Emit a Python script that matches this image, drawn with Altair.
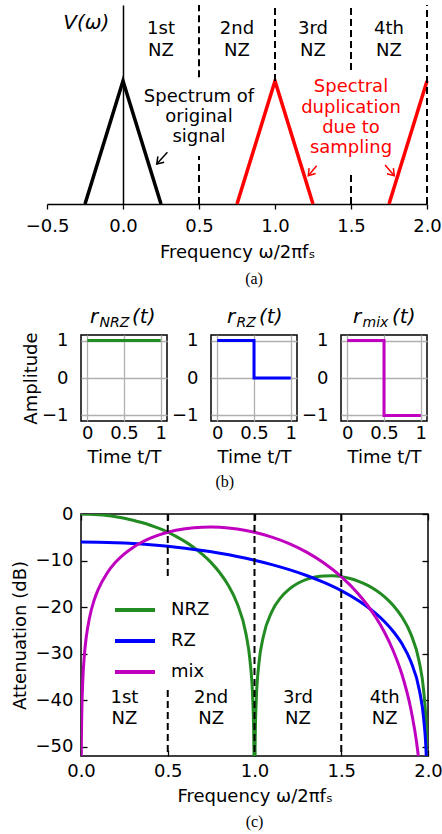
import altair as alt
import pandas as pd
import numpy as np

FONT = "DejaVu Sans"
SERIF = "Liberation Serif"

# ---------------- (a) data ----------------
tri_x = [-0.25, 0.0, 0.25, 0.75, 1.0, 1.25, 1.75, 2.0]
tri_y = [0, 1, 0, 0, 1, 0, 0, 1]
tri_id = ["o", "o", "o", "d1", "d1", "d1", "d2", "d2"]
tri_kind = ["orig", "orig", "orig", "dup", "dup", "dup", "dup", "dup"]
a_xticks = [-0.5, 0.0, 0.5, 1.0, 1.5, 2.0]
A_TOP = 1.618
dash_a_x = [0.5, 0.5, 1.0, 1.5, 1.5, 2.0]
dash_a_y1 = [1.03, 0.0, 1.0, 1.09, 0.0, 0.0]
dash_a_y2 = [A_TOP, 0.39, A_TOP, A_TOP, 0.26, A_TOP]
nz_x = [0.25, 0.75, 1.25, 1.75]
nz_line1 = ["1st", "2nd", "3rd", "4th"]
nz_line2 = ["NZ", "NZ", "NZ", "NZ"]
arrow_tail_x = [0.292, 1.274, 1.724]
arrow_tail_y = [0.420, 0.311, 0.317]
arrow_head_x = [0.222, 1.219, 1.785]
arrow_head_y = [0.325, 0.230, 0.230]
arrow_kind = ["orig", "dup", "dup"]
note_text = ["Spectrum of\noriginal\nsignal", "Spectral\nduplication\ndue to\nsampling"]
note_x = [0.5, 1.5]
note_y = [0.832, 0.908]
note_kind = ["orig", "dup"]

# ---------------- (b) data ----------------
b_names = ["NRZ", "RZ", "mix"]
b_t = [[0, 1], [0, 0.5, 0.5, 1], [0, 0.5, 0.5, 1]]
b_v = [[1, 1], [1, 1, 0, 0], [1, 1, -1, -1]]

# ---------------- (c) data ----------------
nrz_f = [0, 0.05, 0.1, 0.15, 0.2, 0.25, 0.3, 0.35, 0.4, 0.45,
         0.5, 0.55, 0.6, 0.65, 0.7, 0.75, 0.8, 0.85, 0.9, 0.95,
         0.975, 0.99, 0.995, 0.998, 1.0, 1.002, 1.005, 1.01, 1.025, 1.05,
         1.1, 1.15, 1.2, 1.25, 1.3, 1.35, 1.4, 1.45, 1.5, 1.55,
         1.6, 1.65, 1.7, 1.75, 1.8, 1.85, 1.9, 1.95, 1.975, 1.99,
         1.995, 2.0]
nrz_db = [0, -0.04, -0.14, -0.32, -0.58, -0.91, -1.33, -1.83, -2.42, -3.11,
          -3.92, -4.86, -5.94, -7.20, -8.69, -10.45, -12.62, -15.39, -19.23, -25.6,
          -31.83, -39.9, -46.0, -54.0, -60, -54.0, -46.1, -40.1, -32.26, -26.5,
          -20.97, -18.02, -16.14, -14.89, -14.06, -13.55, -13.30, -13.28, -13.46, -13.86,
          -14.46, -15.30, -16.39, -17.81, -19.66, -22.15, -25.7, -31.86, -37.96, -46.0,
          -52.0, -60]
rz_f = [0, 0.1, 0.2, 0.3, 0.4, 0.5, 0.6, 0.7, 0.8, 0.9, 1.0, 1.1, 1.2, 1.3, 1.4,
        1.5, 1.6, 1.65, 1.7, 1.75, 1.8, 1.85, 1.9, 1.95, 1.975, 1.99, 1.995, 2.0]
rz_db = [-6.02, -6.06, -6.16, -6.34, -6.60, -6.93, -7.35, -7.85, -8.44, -9.13,
         -9.94, -10.88, -11.96, -13.22, -14.71, -16.47, -18.64, -19.93, -21.41,
         -23.15, -25.25, -27.9, -31.6, -37.8, -43.97, -52.0, -58.0, -60]
mix_f = [0, 0.001, 0.002, 0.005, 0.01, 0.02, 0.03, 0.05, 0.075, 0.1,
         0.15, 0.2, 0.25, 0.3, 0.35, 0.4, 0.45, 0.5, 0.6, 0.7,
         0.75, 0.8, 0.9, 1.0, 1.1, 1.2, 1.3, 1.4, 1.5, 1.6,
         1.65, 1.7, 1.75, 1.8, 1.85, 1.9, 1.92, 1.93, 1.94, 1.95, 1.96]
mix_db = [-60, -56.1, -50.06, -42.1, -36.08, -30.06, -26.54, -22.12, -18.6, -16.15,
          -12.72, -10.34, -8.57, -7.18, -6.08, -5.19, -4.49, -3.92, -3.17, -2.83,
          -2.80, -2.85, -3.22, -3.92, -4.97, -6.37, -8.20, -10.53, -13.46, -17.23,
          -19.55, -22.25, -25.47, -29.43, -34.5, -41.7, -45.7, -48.0, -50.7, -53.9, -57.8]
series = ["NRZ", "RZ", "mix"]
series_colors = ["#228B22", "#0000FF", "#BF00BF"]
c_xticks = [0, 0.5, 1.0, 1.5, 2.0]
c_yticks = [0, -10, -20, -30, -40, -50]
nz_bounds = [0.5, 1.0, 1.5]
C_NZ_Y1 = -40.6
C_NZ_Y2 = -45.1
A_NZ_Y = 1.382

# =============== (a) ===============
A_W, A_H = 346, 199
xa_scale = alt.Scale(domain=[-0.5, 2.0], range=[-34, A_W], nice=False, zero=False)
ya_scale = alt.Scale(domain=[0, A_TOP], nice=False, zero=False)
kind_scale = alt.Scale(domain=["orig", "dup"], range=["black", "#FF0000"])

df_tri = pd.DataFrame({"x": tri_x, "y": tri_y, "id": tri_id, "kind": tri_kind})
tri = alt.Chart(df_tri).mark_line(strokeWidth=3.5, strokeJoin="miter").encode(
    x=alt.X("x:Q", scale=xa_scale, axis=alt.Axis(
        values=a_xticks, format=".1f", tickSize=5, tickWidth=1.3, domainWidth=1.5,
        labelPadding=8, labelFlush=False, labelOverlap=False, grid=False,
        title="Frequency ω/2πfₛ", titlePadding=8)),
    y=alt.Y("y:Q", scale=ya_scale, axis=alt.Axis(
        orient="left", offset=-42, labels=False, ticks=False, grid=False,
        domainWidth=1.5, title=None, minExtent=0)),
    color=alt.Color("kind:N", scale=kind_scale, legend=None),
    detail="id:N",
)
df_dash_a = pd.DataFrame({"x": dash_a_x, "y1": dash_a_y1, "y2": dash_a_y2})
dash_a = alt.Chart(df_dash_a).mark_rule(strokeDash=[7, 4], strokeWidth=2, color="black").encode(
    x=alt.X("x:Q", scale=xa_scale), y=alt.Y("y1:Q", scale=ya_scale), y2="y2:Q")
df_nz_a = pd.DataFrame({"x": nz_x, "t": [a + "\n" + b for a, b in zip(nz_line1, nz_line2)]})
df_nz_a["y"] = A_NZ_Y
nz_a = alt.Chart(df_nz_a).mark_text(fontSize=18, lineBreak="\n", lineHeight=22,
                                    baseline="alphabetic", align="center", color="black").encode(
    x=alt.X("x:Q", scale=xa_scale), y=alt.Y("y:Q", scale=ya_scale), text="t:N")
df_arr = pd.DataFrame({"tx": arrow_tail_x, "ty": arrow_tail_y, "hx": arrow_head_x,
                       "hy": arrow_head_y, "kind": arrow_kind})
df_arr["ang"] = (np.degrees(np.arctan2((df_arr.hx - df_arr.tx) * 152.0,
                                       (df_arr.hy - df_arr.ty) * 123.0)) + 360) % 360
shaft = alt.Chart(df_arr).mark_rule(strokeWidth=1.5).encode(
    x=alt.X("tx:Q", scale=xa_scale), y=alt.Y("ty:Q", scale=ya_scale),
    x2="hx:Q", y2="hy:Q", color=alt.Color("kind:N", scale=kind_scale, legend=None))
head = alt.Chart(df_arr).mark_point(shape="M -0.6 0.9 L 0 0 L 0.6 0.9", size=200,
                                    filled=False, strokeWidth=1.5, opacity=1).encode(
    x=alt.X("hx:Q", scale=xa_scale), y=alt.Y("hy:Q", scale=ya_scale),
    angle=alt.Angle("ang:Q", scale=None),
    color=alt.Color("kind:N", scale=kind_scale, legend=None))
df_note = pd.DataFrame({"x": note_x, "y": note_y, "t": note_text, "kind": note_kind})
notes = alt.Chart(df_note).mark_text(fontSize=18, lineBreak="\n", lineHeight=20.3,
                                     baseline="alphabetic", align="center").encode(
    x=alt.X("x:Q", scale=xa_scale), y=alt.Y("y:Q", scale=ya_scale), text="t:N",
    color=alt.Color("kind:N", scale=kind_scale, legend=None))
vlab = alt.Chart(pd.DataFrame({"x": [-0.393], "y": [1.423], "t": ["V(ω)"]})).mark_text(
    fontSize=20, fontStyle="italic", align="left", baseline="alphabetic", color="black").encode(
    x=alt.X("x:Q", scale=xa_scale), y=alt.Y("y:Q", scale=ya_scale), text="t:N")

chart_a = alt.layer(tri, dash_a, nz_a, shaft, head, notes, vlab).properties(
    width=A_W, height=A_H,
    view=alt.ViewBackground(stroke="transparent"),
    title=alt.TitleParams("(a)", orient="bottom", font=SERIF, fontSize=16,
                          fontWeight="normal", offset=9.5, anchor="middle", color="black"))

# =============== (b) ===============
B_W = B_H = 86
title_pos = {"NRZ": [9, 18.5, 51], "RZ": [16, 25.5, 48], "mix": [12, 21.5, 51]}


def panel(k):
    name = b_names[k]
    df = pd.DataFrame({"t": b_t[k], "v": b_v[k], "i": list(range(len(b_t[k])))})
    line = alt.Chart(df).mark_line(color=series_colors[k], strokeWidth=3).encode(
        x=alt.X("t:Q", scale=alt.Scale(domain=[-0.085, 1.085], nice=False, zero=False),
                axis=alt.Axis(values=[0, 0.5, 1], format="~g", grid=True, gridColor="#b0b0b0",
                              gridWidth=1.3, ticks=False, domain=False, labelPadding=3,
                              labelFlush=False, title="Time t/T", titlePadding=6)),
        y=alt.Y("v:Q", scale=alt.Scale(domain=[-1.15, 1.15], nice=False, zero=False),
                axis=alt.Axis(values=[-1, 0, 1], format="d", grid=True, gridColor="#b0b0b0",
                              gridWidth=1.3, ticks=False, domain=False, labelPadding=13,
                              labelFlush=False, minExtent=0,
                              title=("Amplitude" if k == 0 else None), titlePadding=1)),
        order="i:Q",
    )
    px = title_pos[name]
    pieces = [("r", 20, px[0], -12), (name, 14, px[1], -8.5), ("(t)", 20, px[2], -12)]
    layers = [line]
    for txt, fs, xx, yy in pieces:
        layers.append(alt.Chart(pd.DataFrame({"s": [txt]})).mark_text(
            fontSize=fs, fontStyle="italic", align="left", baseline="alphabetic",
            color="black").encode(x=alt.value(xx), y=alt.value(yy), text="s:N"))
    return alt.layer(*layers).properties(
        width=B_W, height=B_H,
        view=alt.ViewBackground(stroke="black", strokeWidth=1.5))


chart_b = alt.hconcat(panel(0), panel(1), panel(2), spacing=2).properties(
    title=alt.TitleParams("(b)", orient="bottom", font=SERIF, fontSize=16,
                          fontWeight="normal", offset=7, anchor="middle", color="black"))

# =============== (c) ===============
C_W, C_H = 347, 242
xc = alt.Scale(domain=[0, 2], nice=False, zero=False)
yc = alt.Scale(domain=[-52, 0], nice=False, zero=False)
df_c = pd.concat([
    pd.DataFrame({"f": nrz_f, "db": nrz_db, "s": "NRZ"}),
    pd.DataFrame({"f": rz_f, "db": rz_db, "s": "RZ"}),
    pd.DataFrame({"f": mix_f, "db": mix_db, "s": "mix"}),
], ignore_index=True)

curves = alt.Chart(df_c).mark_line(strokeWidth=3, clip=True, interpolate="monotone").encode(
    x=alt.X("f:Q", scale=xc, axis=alt.Axis(
        values=c_xticks, format=".1f", ticks=False, domain=False, grid=False,
        labelPadding=6, labelFlush=False, title="Frequency ω/2πfₛ", titlePadding=7)),
    y=alt.Y("db:Q", scale=yc, axis=alt.Axis(
        values=c_yticks, format="d", ticks=False, domain=False, grid=False, minExtent=0,
        labelPadding=8, labelFlush=False, title="Attenuation (dB)", titlePadding=6)),
    color=alt.Color("s:N", scale=alt.Scale(domain=series, range=series_colors),
                    legend=alt.Legend(orient="none", legendX=24, legendY=66, title=None,
                                      symbolType="stroke", symbolSize=1600,
                                      symbolStrokeWidth=4, labelFontSize=18,
                                      labelOffset=14, rowPadding=-21, padding=8,
                                      fillColor="white", strokeColor="white",
                                      labelColor="black", labelFont=FONT)),
)
dash_c = alt.Chart(pd.DataFrame({"x": nz_bounds})).mark_rule(
    strokeDash=[7, 4], strokeWidth=2, color="black").encode(
    x=alt.X("x:Q", scale=xc, axis=None))


def tick_axis(orient, off, vals):
    return alt.Axis(orient=orient, offset=off, values=vals, labels=False, domain=False,
                    grid=False, ticks=True, tickSize=6, tickWidth=1.3, tickColor="black",
                    title=None, minExtent=0)


df_nz1 = pd.DataFrame({"x": nz_x, "t": nz_line1})
df_nz1["y"] = C_NZ_Y1
df_nz2 = pd.DataFrame({"x": nz_x, "t": nz_line2})
df_nz2["y"] = C_NZ_Y2
nz_c1 = alt.Chart(df_nz1).mark_text(fontSize=18, baseline="alphabetic", color="black").encode(
    x=alt.X("x:Q", scale=xc, axis=tick_axis("top", -C_H, c_xticks)),
    y=alt.Y("y:Q", scale=yc, axis=tick_axis("right", -C_W, c_yticks)),
    text="t:N")
nz_c2 = alt.Chart(df_nz2).mark_text(fontSize=18, baseline="alphabetic", color="black").encode(
    x=alt.X("x:Q", scale=xc, axis=tick_axis("bottom", -C_H, c_xticks)),
    y=alt.Y("y:Q", scale=yc, axis=tick_axis("left", -C_W, c_yticks)),
    text="t:N")

chart_c = alt.layer(curves, dash_c, nz_c1, nz_c2).resolve_axis(
    x="independent", y="independent").properties(
    width=C_W, height=C_H,
    view=alt.ViewBackground(stroke="black", strokeWidth=1.5),
    title=alt.TitleParams("(c)", orient="bottom", font=SERIF, fontSize=16,
                          fontWeight="normal", offset=8.5, anchor="middle", color="black"))

lower = alt.vconcat(chart_b, chart_c, spacing=14).resolve_scale(color="independent")
chart = alt.vconcat(chart_a, lower, spacing=19).resolve_scale(
    color="independent").properties(
    padding={"left": 10, "top": 3, "right": -20, "bottom": 0},
    background="white",
).configure(font=FONT).configure_axis(
    labelFontSize=18, titleFontSize=18, titleFontWeight="normal", labelColor="black",
    titleColor="black", domainColor="black", tickColor="black", labelFont=FONT,
    titleFont=FONT
).configure_view(stroke="transparent")

chart.save("out.html", embed_options={"renderer": "svg", "actions": False})
